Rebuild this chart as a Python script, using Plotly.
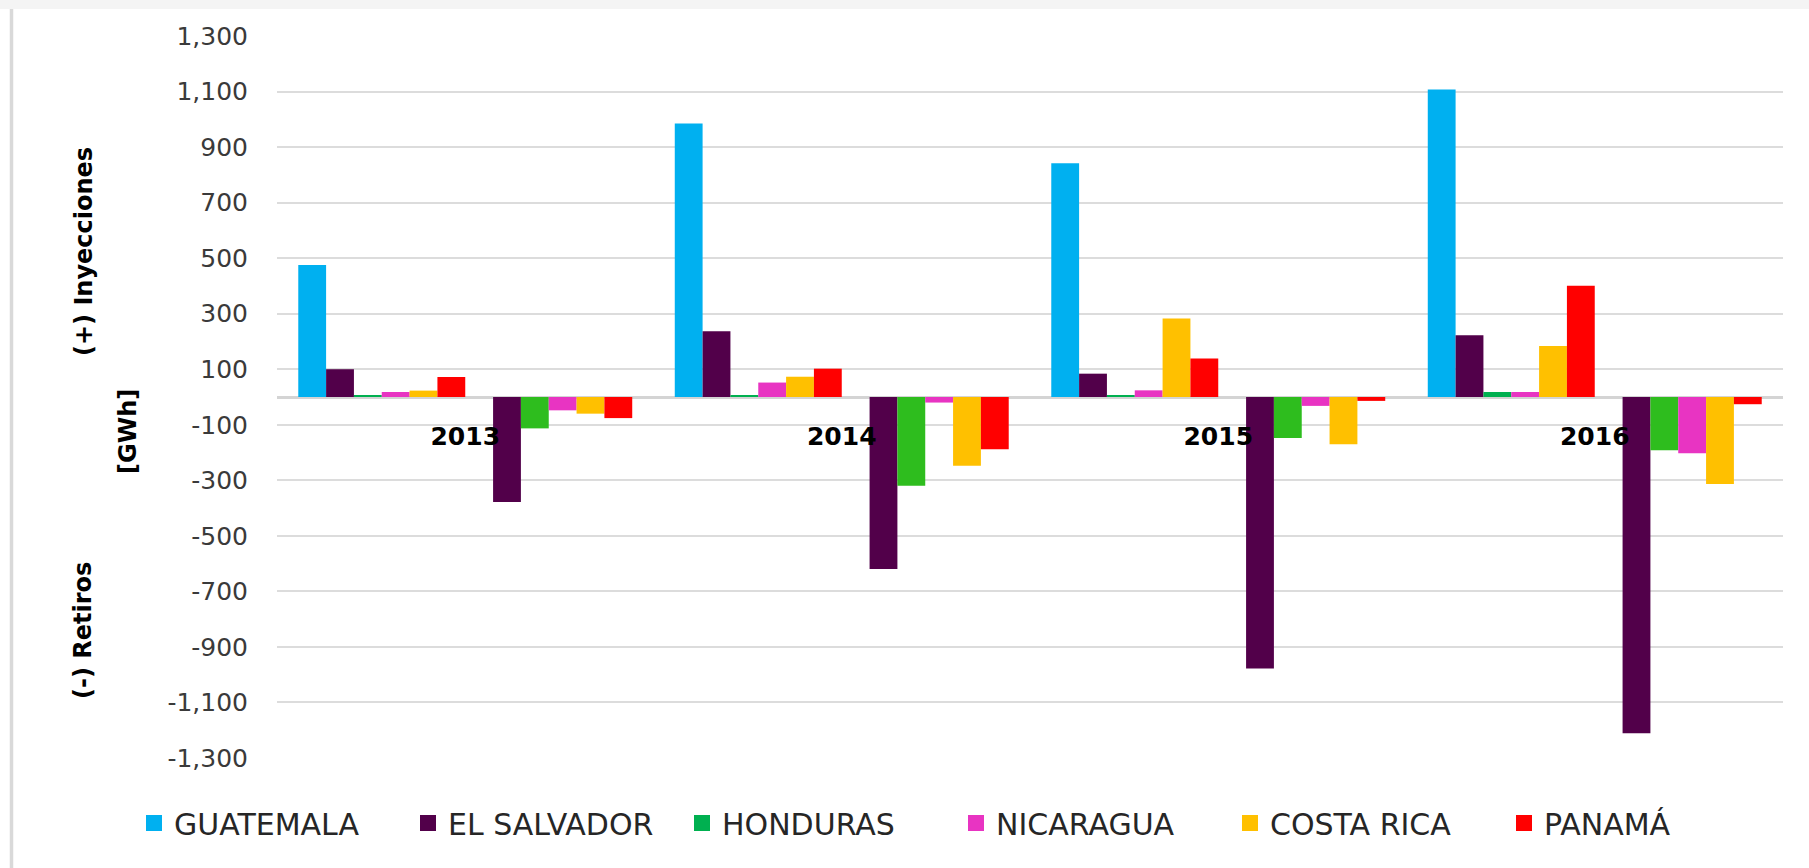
import plotly.graph_objects as go

# ---------------- data ----------------
years = ["2013", "2014", "2015", "2016"]
countries = ["GUATEMALA", "EL SALVADOR", "HONDURAS", "NICARAGUA", "COSTA RICA", "PANAMÁ"]

# (+) Inyecciones [GWh]
iny_guatemala = [475, 985, 842, 1107]
iny_el_salvador = [100, 237, 84, 222]
iny_honduras = [5, 6, 6, 18]
iny_nicaragua = [18, 52, 24, 18]
iny_costa_rica = [23, 73, 283, 184]
iny_panama = [72, 102, 139, 401]

# (-) Retiros [GWh]
ret_guatemala = [None, None, None, None]
ret_el_salvador = [-378, -619, -978, -1211]
ret_honduras = [-113, -320, -148, -192]
ret_nicaragua = [-48, -20, -32, -203]
ret_costa_rica = [-60, -248, -170, -313]
ret_panama = [-76, -188, -14, -26]

y_ticks = list(range(-1300, 1301, 200))
y_tick_labels = [f"{v:,}" for v in y_ticks]

# ---------------- style ----------------
pos_colors = ["#00B0F0", "#52004A", "#00B050", "#E834C2", "#FFC000", "#FF0000"]
neg_colors = ["#00B0F0", "#52004A", "#2EBD1E", "#E834C2", "#FFC000", "#FF0000"]

W, H = 1809, 868
PL, PR, PT, PB = 277, 1783, 36, 758  # plot area in px


def px_x(x):
    return (x - PL) / (PR - PL)


def px_y(y):
    return (PB - y) / (PB - PT)


iny = [iny_guatemala, iny_el_salvador, iny_honduras, iny_nicaragua, iny_costa_rica, iny_panama]
ret = [ret_guatemala, ret_el_salvador, ret_honduras, ret_nicaragua, ret_costa_rica, ret_panama]

fig = go.Figure()
for name, vals, col in zip(countries, iny, pos_colors):
    fig.add_trace(go.Bar(x=years, y=vals, name=name, marker=dict(color=col, line=dict(width=0)),
                         legendgroup=name, showlegend=False))
for name, vals, col in zip(countries, ret, neg_colors):
    fig.add_trace(go.Bar(x=years, y=vals, name=name, marker=dict(color=col, line=dict(width=0)),
                         legendgroup=name, showlegend=False))
# legend entries (square keys like the original)
for name, col in zip(countries, pos_colors):
    fig.add_trace(go.Scatter(x=[None], y=[None], mode="markers", name=name, legendgroup=name,
                             marker=dict(symbol="square", size=19, color=col, line=dict(width=0)),
                             showlegend=True))

tick_font = dict(family="DejaVu Sans", size=25, color="#3a3a3a")

fig.update_layout(
    width=W, height=H,
    paper_bgcolor="white", plot_bgcolor="white",
    margin=dict(l=PL, r=W - PR, t=PT, b=H - PB, autoexpand=False),
    barmode="group", bargap=0.113, bargroupgap=0,
    showlegend=True,
    legend=dict(orientation="h", x=px_x(134), xanchor="left", y=px_y(823), yanchor="middle",
                font=dict(family="DejaVu Sans", size=30, color="#262626"),
                entrywidth=229, entrywidthmode="pixels", bgcolor="rgba(0,0,0,0)"),
    xaxis=dict(type="category", anchor="free", position=0.5, showgrid=False, showline=False,
               ticks="", ticklabelstandoff=22,
               tickfont=dict(family="DejaVu Sans", size=25, color="black", weight="bold")),
    yaxis=dict(range=[-1300, 1300], tickvals=y_ticks, ticktext=y_tick_labels,
               showgrid=True, gridcolor="#dcdcdc", gridwidth=2,
               zeroline=True, zerolinecolor="#d4d4d4", zerolinewidth=2.5,
               showline=False, ticks="", ticklabelstandoff=28, tickfont=tick_font),
    font=dict(family="DejaVu Sans"),
)

title_font = dict(family="DejaVu Sans", size=24, color="black", weight="bold")
for txt, xp, yp in [("(+) Inyecciones", 84, 252), ("[GWh]", 128, 432), ("(-) Retiros", 83, 631)]:
    fig.add_annotation(text=txt, xref="paper", yref="paper", x=px_x(xp), y=px_y(yp),
                       xanchor="center", yanchor="middle", textangle=-90, showarrow=False,
                       font=title_font)

# slide frame decoration: top light band and left border line
fig.add_shape(type="rect", xref="paper", yref="paper", x0=px_x(0), x1=px_x(W), y0=px_y(0), y1=px_y(9),
              fillcolor="#f4f4f4", line=dict(width=0), layer="below")
fig.add_shape(type="line", xref="paper", yref="paper", x0=px_x(11.5), x1=px_x(11.5), y0=px_y(9), y1=px_y(H),
              line=dict(color="#d9d9d9", width=3.5))

fig.write_html("out.html", config={"displayModeBar": False},
               post_script="document.body.style.margin='0';")
